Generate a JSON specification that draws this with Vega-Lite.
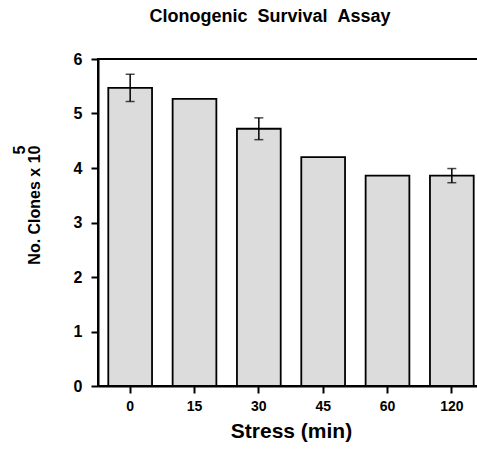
{
  "$schema": "https://vega.github.io/schema/vega-lite/v6.json",
  "width": 386,
  "height": 327,
  "autosize": "none",
  "padding": {"left": 98, "top": 59, "right": 0, "bottom": 64},
  "title": {
    "text": "Clonogenic\u00a0\u00a0Survival\u00a0\u00a0Assay",
    "font": "Liberation Sans",
    "fontSize": 18,
    "fontWeight": "bold",
    "color": "black",
    "anchor": "middle",
    "dx": -21,
    "offset": 25
  },
  "config": {
    "view": {"stroke": "black", "strokeWidth": 2},
    "axis": {
      "labelFont": "Liberation Sans",
      "titleFont": "Liberation Sans",
      "labelFontWeight": "bold",
      "titleFontWeight": "bold",
      "labelColor": "black",
      "titleColor": "black",
      "domainColor": "black",
      "tickColor": "black",
      "domainWidth": 2,
      "tickWidth": 2,
      "grid": false
    }
  },
  "data": {
    "values": [
      {"stress": "0", "mean": 5.47, "lo": 5.22, "hi": 5.72},
      {"stress": "15", "mean": 5.27, "lo": null, "hi": null},
      {"stress": "30", "mean": 4.72, "lo": 4.52, "hi": 4.92},
      {"stress": "45", "mean": 4.2, "lo": null, "hi": null},
      {"stress": "60", "mean": 3.86, "lo": null, "hi": null},
      {"stress": "120", "mean": 3.86, "lo": 3.73, "hi": 3.99}
    ]
  },
  "encoding": {
    "x": {
      "field": "stress",
      "type": "ordinal",
      "sort": null,
      "scale": {"paddingInner": 0.32, "paddingOuter": 0.16},
      "axis": {
        "title": "Stress (min)",
        "titleFontSize": 21,
        "titlePadding": 7,
        "labelFontSize": 14,
        "labelAngle": 0,
        "labelPadding": 6,
        "tickSize": 7
      }
    }
  },
  "layer": [
    {
      "mark": {"type": "bar", "fill": "#dcdcdc", "stroke": "black", "strokeWidth": 1.8},
      "encoding": {
        "y": {
          "field": "mean",
          "type": "quantitative",
          "scale": {"domain": [0, 6], "nice": false},
          "axis": {
            "values": [0, 1, 2, 3, 4, 5, 6],
            "format": "d",
            "title": ["5", "No. Clones x 10\u00a0\u00a0"],
            "titleFontSize": 16,
            "titleLineHeight": 15,
            "titleAlign": "right",
            "titleAngle": -90,
            "titleBaseline": "bottom",
            "titleX": -71,
            "titleY": 86,
            "labelFontSize": 16,
            "labelPadding": 9,
            "tickSize": 7
          }
        }
      }
    },
    {
      "mark": {"type": "rule", "color": "black", "strokeWidth": 1.5},
      "encoding": {
        "y": {"field": "lo", "type": "quantitative"},
        "y2": {"field": "hi"}
      }
    },
    {
      "mark": {"type": "tick", "color": "black", "thickness": 1.5, "size": 9},
      "encoding": {"y": {"field": "hi", "type": "quantitative"}}
    },
    {
      "mark": {"type": "tick", "color": "black", "thickness": 1.5, "size": 9},
      "encoding": {"y": {"field": "lo", "type": "quantitative"}}
    }
  ]
}
